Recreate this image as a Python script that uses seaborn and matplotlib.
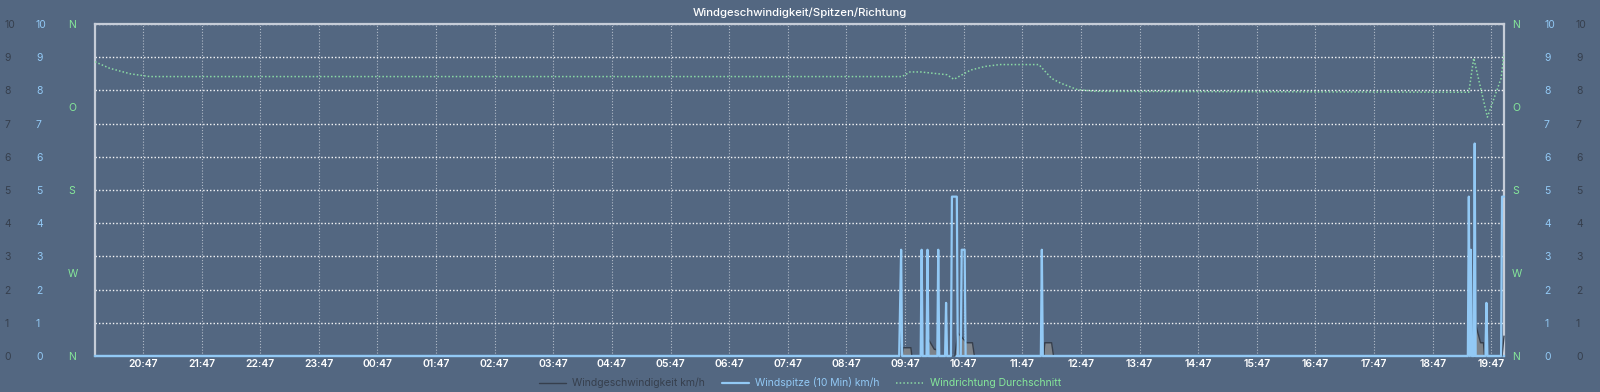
import matplotlib
matplotlib.use("Agg")
import matplotlib.pyplot as plt
import matplotlib.dates as mdates
import seaborn as sns
import pandas as pd

# ---------------- data ----------------
t_start = "2024-06-01 19:58"
t_end = "2024-06-02 20:00"

# wind gust (10 min) km/h – breakpoints
gust_times = ["2024-06-01 19:58", "2024-06-02 09:41", "2024-06-02 09:42", "2024-06-02 09:43", "2024-06-02 09:44",
              "2024-06-02 10:03", "2024-06-02 10:04", "2024-06-02 10:05",
              "2024-06-02 10:09", "2024-06-02 10:10", "2024-06-02 10:11",
              "2024-06-02 10:20", "2024-06-02 10:21", "2024-06-02 10:22",
              "2024-06-02 10:28", "2024-06-02 10:29", "2024-06-02 10:30",
              "2024-06-02 10:34", "2024-06-02 10:35", "2024-06-02 10:40", "2024-06-02 10:41",
              "2024-06-02 10:44", "2024-06-02 10:45", "2024-06-02 10:48", "2024-06-02 10:49",
              "2024-06-02 12:06", "2024-06-02 12:07", "2024-06-02 12:08",
              "2024-06-02 19:23", "2024-06-02 19:24", "2024-06-02 19:25", "2024-06-02 19:26", "2024-06-02 19:27",
              "2024-06-02 19:29", "2024-06-02 19:30", "2024-06-02 19:31",
              "2024-06-02 19:41", "2024-06-02 19:42", "2024-06-02 19:43",
              "2024-06-02 19:57", "2024-06-02 19:58", "2024-06-02 20:00"]
gust_values = [0, 0, 1.6, 3.2, 0,
               0, 3.2, 0,
               0, 3.2, 0,
               0, 3.2, 0,
               0, 1.6, 0,
               0, 4.8, 4.8, 0,
               0, 3.2, 3.2, 0,
               0, 3.2, 0,
               0, 4.8, 0, 3.2, 0,
               0, 6.4, 0,
               0, 1.6, 0,
               0, 4.8, 4.8]

# wind speed km/h – breakpoints
speed_times = ["2024-06-01 19:58", "2024-06-02 09:44", "2024-06-02 09:45", "2024-06-02 09:53", "2024-06-02 09:54",
               "2024-06-02 10:09", "2024-06-02 10:11", "2024-06-02 10:17", "2024-06-02 10:19", "2024-06-02 10:20",
               "2024-06-02 10:38", "2024-06-02 10:41", "2024-06-02 10:50", "2024-06-02 10:56", "2024-06-02 10:58",
               "2024-06-02 12:09", "2024-06-02 12:10", "2024-06-02 12:17", "2024-06-02 12:19",
               "2024-06-02 19:27", "2024-06-02 19:31", "2024-06-02 19:36", "2024-06-02 19:39", "2024-06-02 19:40",
               "2024-06-02 19:58", "2024-06-02 20:00"]
speed_values = [0, 0, 0.25, 0.25, 0,
                0, 0.5, 0.2, 0.2, 0,
                0, 0.7, 0.4, 0.4, 0,
                0, 0.4, 0.4, 0,
                0, 0.95, 0.4, 0.4, 0,
                0, 0.6]

# average wind direction (degrees)
dir_times = ["2024-06-01 19:58", "2024-06-01 20:13", "2024-06-01 20:34", "2024-06-01 20:54",
             "2024-06-02 09:44", "2024-06-02 09:52", "2024-06-02 10:03", "2024-06-02 10:30", "2024-06-02 10:37",
             "2024-06-02 10:54", "2024-06-02 11:09", "2024-06-02 11:24", "2024-06-02 12:04", "2024-06-02 12:17",
             "2024-06-02 12:26", "2024-06-02 12:43", "2024-06-02 13:02", "2024-06-02 19:24", "2024-06-02 19:29",
             "2024-06-02 19:43", "2024-06-02 19:57", "2024-06-02 20:00"]
dir_values = [41, 48, 54, 57,
              57, 52, 52, 55, 60,
              50, 46, 44, 44, 59,
              64, 71, 73, 74, 37,
              101, 59, 32]

speed_ticks = list(range(0, 11))
dir_ticks = [0, 90, 180, 270, 360]
dir_labels = ["N", "O", "S", "W", "N"]

title = "Windgeschwindigkeit/Spitzen/Richtung"
lbl_speed = "Windgeschwindigkeit km/h"
lbl_gust = "Windspitze (10 Min) km/h"
lbl_dir = "Windrichtung Durchschnitt"

# ---------------- style ----------------
BG = "#536781"
DARK = "#363f4d"
BLUE = "#92c9f5"
GREEN = "#86e89a"
DIRLINE = "#8ad9a4"
SPINE = "#c6cdd8"

sns.set_theme(style="dark")
plt.rcParams['font.family'] = ['Inter', 'DejaVu Sans']

df_g = pd.DataFrame({"t": pd.to_datetime(gust_times), "v": gust_values})
df_s = pd.DataFrame({"t": pd.to_datetime(speed_times), "v": speed_values})
df_d = pd.DataFrame({"t": pd.to_datetime(dir_times), "v": dir_values})

fig = plt.figure(figsize=(16, 3.92), dpi=100, facecolor=BG)
ax = fig.add_axes([95 / 1600, 36 / 392, (1504 - 95) / 1600, 332 / 392])
ax.set_facecolor(BG)

# speed area + line
ax.fill_between(df_s["t"], df_s["v"], 0, color="#80858b", alpha=0.95, lw=0, zorder=2)
sns.lineplot(data=df_s, x="t", y="v", ax=ax, color=DARK, lw=1.0, label=lbl_speed, zorder=3, legend=False)
# gust
sns.lineplot(data=df_g, x="t", y="v", ax=ax, color=BLUE, lw=1.6, label=lbl_gust, zorder=4, legend=False)
for ln in ax.lines:
    ln.set_clip_on(False)

ax.set_xlim(pd.Timestamp(t_start), pd.Timestamp(t_end))
ax.set_ylim(0, 10)
ax.set_yticks(speed_ticks)
ax.set_xlabel("")
ax.set_ylabel("")
ax.xaxis.set_major_locator(mdates.MinuteLocator(byminute=[47]))
ax.xaxis.set_major_formatter(mdates.DateFormatter("%H:%M"))
ax.tick_params(axis="x", colors="white", labelsize=7.5, length=0, pad=2)
for lab in ax.get_xticklabels():
    lab.set_fontweight("semibold")
ax.tick_params(axis="y", labelcolor=BLUE, labelsize=7.5, length=0, pad=42.5)
plt.setp(ax.get_yticklabels(), ha="left")
ax.grid(True, axis="y", color="white", linestyle=(0, (1, 1.5)), linewidth=1.0, alpha=0.95)
ax.grid(True, axis="x", color="#d0d6df", linestyle=(0, (1, 1.6)), linewidth=0.8, alpha=0.75)
for side in ["left", "top", "right", "bottom"]:
    ax.spines[side].set_color(SPINE)
    ax.spines[side].set_linewidth(1.6)
ax.spines["bottom"].set_color(BLUE)

# dark grey numbers left & right, blue numbers right
sec_l = ax.secondary_yaxis("left")
sec_l.set_yticks(speed_ticks)
sec_l.tick_params(length=0, pad=65.5, labelcolor=DARK, labelsize=7.5)
plt.setp(sec_l.get_yticklabels(), ha="left")
sec_rb = ax.secondary_yaxis("right")
sec_rb.set_yticks(speed_ticks)
sec_rb.tick_params(length=0, pad=28.8, labelcolor=BLUE, labelsize=7.5)
sec_rd = ax.secondary_yaxis("right")
sec_rd.set_yticks(speed_ticks)
sec_rd.tick_params(length=0, pad=51.8, labelcolor=DARK, labelsize=7.5)
for s in (sec_l, sec_rb, sec_rd):
    for sp in s.spines.values():
        sp.set_visible(False)

# direction axis
ax_dir = ax.twinx()
sns.lineplot(data=df_d, x="t", y="v", ax=ax_dir, color=DIRLINE, lw=1.1,
             linestyle=(0, (1.0, 1.4)), label=lbl_dir, zorder=5, legend=False)
ax_dir.set_ylim(360, 0)
ax_dir.set_yticks(dir_ticks)
ax_dir.set_yticklabels(dir_labels)
ax_dir.set_ylabel("")
ax_dir.tick_params(axis="y", length=0, pad=5.8, labelcolor=GREEN, labelsize=7.5)
ax_dir.grid(False)
for sp in ax_dir.spines.values():
    sp.set_visible(False)
sec_dl = ax_dir.secondary_yaxis("left")
sec_dl.set_yticks(dir_ticks)
sec_dl.set_yticklabels(dir_labels)
sec_dl.tick_params(length=0, pad=19.4, labelcolor=GREEN, labelsize=7.5)
plt.setp(sec_dl.get_yticklabels(), ha="left")
for sp in sec_dl.spines.values():
    sp.set_visible(False)

fig.text(0.5, 1 - 13 / 392, title, ha="center", va="center", color="white", fontsize=8.2, fontweight="medium")

handles = [ax.lines[0], ax.lines[1], ax_dir.lines[0]]
leg = fig.legend(handles, [lbl_speed, lbl_gust, lbl_dir], loc="center", bbox_to_anchor=(0.5, 1 - 383 / 392),
                 ncol=3, frameon=False, fontsize=7.5, handlelength=2.6, columnspacing=1.6, handletextpad=0.6)
for txt, c in zip(leg.get_texts(), [DARK, BLUE, GREEN]):
    txt.set_color(c)

fig.savefig("out.png", dpi=100, facecolor=BG)
